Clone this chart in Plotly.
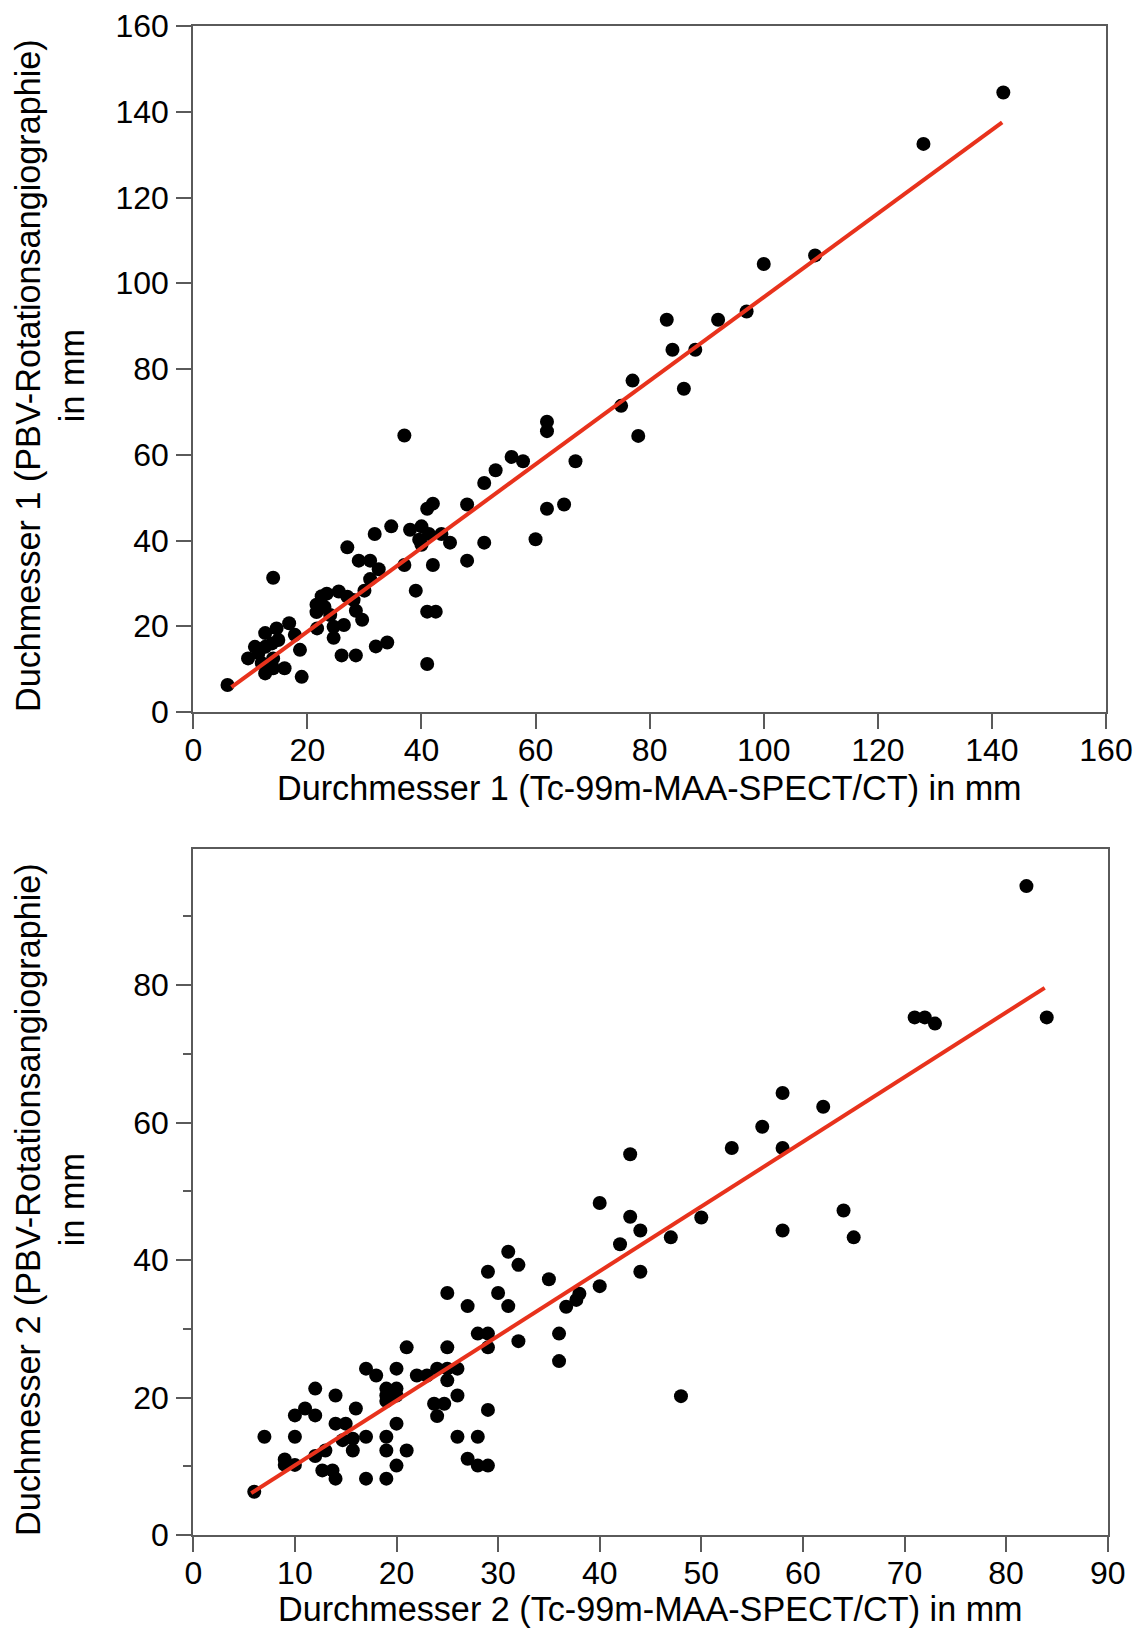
import plotly.graph_objects as go

# ---------------- data: plot 1 (Durchmesser 1) ----------------
d1_spect = [142, 128, 109, 100, 97, 92, 83, 84, 88, 86, 77, 75, 78, 62, 62, 67,
            55.8, 57.8, 65, 62, 60, 53, 51, 48, 51, 48, 45,
            37, 41, 42, 34.7, 31.8, 38, 40, 39.6, 41.3, 43.5, 40, 37, 42, 27, 29, 31,
            32.5, 31, 30, 39, 41, 42.5, 41, 32, 34, 26, 28.5,
            21.6, 21.6, 21.7, 22.5, 23.4, 23, 24, 24.6, 25.5, 24.6, 26.4, 27, 28.1, 28.5, 29.6,
            6, 19, 14, 9.6, 10.8, 11.4, 12, 12.6, 12.6, 12.6, 13.8, 14, 14, 14.6, 14.9, 16,
            16.8, 17.8, 18.7]
d1_pbv = [144.5, 132.5, 106.5, 104.5, 93.4, 91.5, 91.5, 84.5, 84.5, 75.4, 77.3, 71.4, 64.4,
          67.7, 65.5, 58.5, 59.5, 58.5, 48.4, 47.4, 40.3, 56.4, 53.4, 48.4, 39.5, 35.3, 39.5,
          64.5, 47.4, 48.6, 43.3, 41.5, 42.5, 43.3, 40.2, 41.5, 41.5, 39, 34.3, 34.3, 38.4,
          35.3, 35.3, 33.3, 31, 28.3, 28.3, 23.4, 23.4, 11.2, 15.3, 16.2, 13.2, 13.2,
          25, 23.3, 19.5, 27, 27.6, 24.5, 22.6, 17.3, 28.1, 19.9, 20.3, 26.9, 26.1, 23.6, 21.5,
          6.3, 8.2, 31.3, 12.5, 15.2, 13.7, 11.4, 9, 18.4, 15.2, 16, 12.5, 10.2, 19.5, 16.8,
          10.2, 20.7, 18, 14.5]
d1_fit_x = [6.7, 141.8]
d1_fit_y = [5.8, 137.5]

# ---------------- data: plot 2 (Durchmesser 2) ----------------
d2_spect = [6, 7, 9, 9, 10, 10, 10, 11, 12, 12, 12, 13, 12.7, 13.7, 14, 14, 14, 15, 16,
            14.7, 15.7, 15.7, 17, 17, 18, 17, 19, 19, 19, 20, 20, 20, 21, 19, 20, 19, 21,
            20, 19, 22, 23, 24, 25, 25, 25, 25, 26, 26, 23.7, 24.7, 24, 27, 26, 28, 27, 28,
            29, 29, 28, 29, 29, 29, 30, 31, 31, 32, 32, 35, 36, 36, 36.7, 37.7, 38, 40, 40,
            42, 43, 43, 44, 44, 47, 48, 50, 53, 56, 58, 58, 58, 62, 64, 65, 71, 72, 73, 82, 84]
d2_pbv = [6.3, 14.3, 11, 10.2, 10.2, 14.3, 17.4, 18.4, 17.4, 21.3, 11.5, 12.3, 9.4, 9.4, 8.2,
          20.3, 16.2, 16.2, 18.4, 13.8, 14, 12.3, 14.3, 24.2, 23.2, 8.2, 21.3, 20.3, 19.5,
          21.3, 20.3, 24.2, 27.3, 14.3, 16.2, 12.3, 12.3, 10.1, 8.2, 23.2, 23.2, 24.2, 27.3,
          35.2, 22.5, 24.2, 24.2, 20.3, 19.1, 19.1, 17.3, 33.3, 14.3, 14.3, 11.1, 10.1, 10.1,
          18.2, 29.3, 29.3, 27.3, 38.3, 35.2, 41.2, 33.3, 39.3, 28.2, 37.2, 29.3, 25.3, 33.2,
          34.2, 35.1, 36.2, 48.3, 42.3, 55.4, 46.3, 44.3, 38.3, 43.3, 20.2, 46.2, 56.3, 59.4,
          56.3, 64.3, 44.3, 62.3, 47.2, 43.3, 75.3, 75.3, 74.4, 94.4, 75.3]
d2_fit_x = [5.7, 83.8]
d2_fit_y = [6.1, 79.6]

x1_ticks = [0, 20, 40, 60, 80, 100, 120, 140, 160]
y1_ticks = [0, 20, 40, 60, 80, 100, 120, 140, 160]
x2_ticks = [0, 10, 20, 30, 40, 50, 60, 70, 80, 90]
y2_ticks = [0, 20, 40, 60, 80]
y2_minor = [10, 30, 50, 70, 90]

x1_title = "Durchmesser 1 (Tc-99m-MAA-SPECT/CT) in mm"
y1_title = "Duchmesser 1 (PBV-Rotationsangiographie)<br>in mm"
x2_title = "Durchmesser 2 (Tc-99m-MAA-SPECT/CT) in mm"
y2_title = "Duchmesser 2 (PBV-Rotationsangiographie)<br>in mm"

W, H = 1142, 1629
FONT = "Liberation Sans, Arial, Helvetica, sans-serif"
AXC = "#5a5a5a"
RED = "#E8321C"


def standoff(v):
    try:
        go.layout.XAxis(ticklabelstandoff=v)
        return v
    except Exception:
        return 0


XSTAND = standoff(-6)
YSTAND = standoff(1)

fig = go.Figure()
fig.add_trace(go.Scatter(x=d1_spect, y=d1_pbv, mode="markers",
                         marker=dict(color="black", size=14), xaxis="x", yaxis="y",
                         showlegend=False))
fig.add_trace(go.Scatter(x=d1_fit_x, y=d1_fit_y, mode="lines",
                         line=dict(color=RED, width=4), xaxis="x", yaxis="y",
                         showlegend=False))
fig.add_trace(go.Scatter(x=d2_spect, y=d2_pbv, mode="markers",
                         marker=dict(color="black", size=14), xaxis="x2", yaxis="y2",
                         showlegend=False))
fig.add_trace(go.Scatter(x=d2_fit_x, y=d2_fit_y, mode="lines",
                         line=dict(color=RED, width=4), xaxis="x2", yaxis="y2",
                         showlegend=False))

ax_common = dict(showline=True, linecolor=AXC, linewidth=2, mirror=True,
                 ticks="outside", ticklen=15, tickwidth=2, tickcolor=AXC,
                 showgrid=False, zeroline=False, automargin=False,
                 tickfont=dict(family=FONT, size=32, color="black"))
xax = dict(ax_common, ticklabelstandoff=XSTAND)
yax = dict(ax_common, ticklabelstandoff=YSTAND)

# pixel geometry
top_y0, top_y1 = 26, 712
bot_y0, bot_y1 = 849, 1535
xl = 193.3
xr1, xr2 = 1106, 1107.7

fig.update_layout(
    width=W, height=H, margin=dict(l=0, r=0, t=0, b=0, autoexpand=False),
    paper_bgcolor="white", plot_bgcolor="white",
    xaxis=dict(domain=[xl / W, xr1 / W], range=[0, 160], tickvals=x1_ticks,
               anchor="y", **xax),
    yaxis=dict(domain=[1 - top_y1 / H, 1 - top_y0 / H], range=[0, 160],
               tickvals=y1_ticks, anchor="x", **yax),
    xaxis2=dict(domain=[xl / W, xr2 / W], range=[0, 90], tickvals=x2_ticks,
                anchor="y2", **xax),
    yaxis2=dict(domain=[1 - bot_y1 / H, 1 - bot_y0 / H], range=[0, 99.8],
                tickvals=y2_ticks, anchor="x2",
                minor=dict(tickvals=y2_minor, ticks="outside", ticklen=8,
                           tickwidth=2, tickcolor=AXC),
                **yax),
    font=dict(family=FONT, color="black"),
)

title_font = dict(family=FONT, size=34.2, color="black")
fig.add_annotation(text=x1_title, x=(xl + xr1) / 2 / W, y=1 - 788 / H, xref="paper",
                   yref="paper", showarrow=False, font=title_font,
                   xanchor="center", yanchor="middle")
fig.add_annotation(text=x2_title, x=(xl + xr2) / 2 / W, y=1 - 1609 / H, xref="paper",
                   yref="paper", showarrow=False, font=title_font,
                   xanchor="center", yanchor="middle")
fig.add_annotation(text=y1_title, x=50 / W, y=1 - 376 / H, xref="paper", yref="paper",
                   showarrow=False, font=title_font, textangle=-90,
                   xanchor="center", yanchor="middle")
fig.add_annotation(text=y2_title, x=50 / W, y=1 - 1200 / H, xref="paper", yref="paper",
                   showarrow=False, font=title_font, textangle=-90,
                   xanchor="center", yanchor="middle")

fig.write_html("out.html",
               config={"displayModeBar": False},
               post_script="document.body.style.margin='0px';"
                           "document.body.style.overflow='hidden';")
